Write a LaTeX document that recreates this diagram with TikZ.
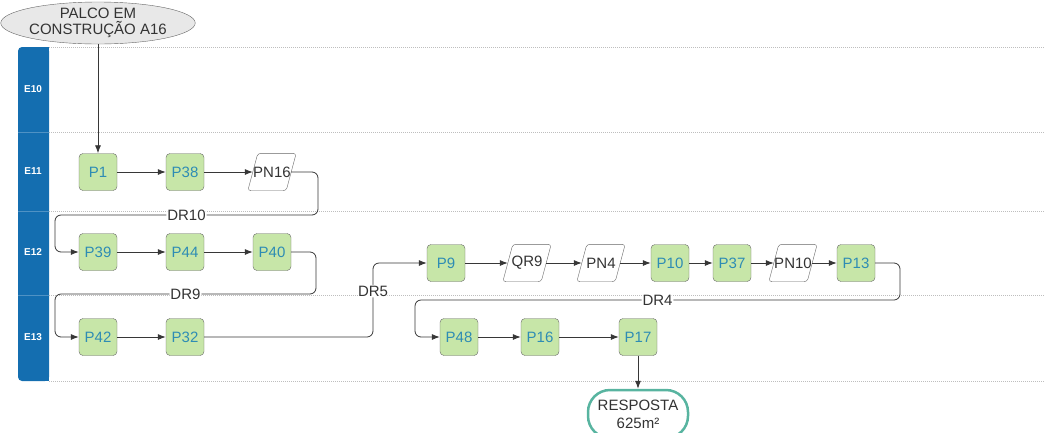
\documentclass[tikz,border=0pt]{standalone}
\usepackage{fontspec}
\setmainfont{Liberation Sans}
\usetikzlibrary{arrows.meta,calc,shapes.geometric}
\definecolor{lanecol}{RGB}{20,110,176}
\definecolor{stepfill}{RGB}{199,230,168}
\definecolor{steptext}{RGB}{46,140,180}
\definecolor{edgecol}{RGB}{55,55,55}
\definecolor{gridcol}{RGB}{190,190,190}
\definecolor{endcol}{RGB}{88,180,160}
\begin{document}
\begin{tikzpicture}[x=1pt,y=-1pt,
  font=\fontsize{15}{17}\selectfont,
  stepbox/.style={draw=black!60, fill=stepfill, rounded corners=4pt, minimum width=38pt,
    minimum height=37pt, inner sep=0pt, text=steptext},
  slantbox/.style={minimum width=38pt, minimum height=37pt, inner sep=0pt, text=black!80},
  slantedge/.style={draw=black!60, rounded corners=3pt},
  flow/.style={draw=edgecol, line width=0.8pt, -{Latex[length=8pt,width=6pt]}},
  route/.style={flow, rounded corners=6pt},
  tag/.style={fill=white, inner sep=1pt, text=black!80},
  divider/.style={gridcol, line width=0.7pt, dash pattern=on 1pt off 1pt},
  lanelabel/.style={text=white, font=\fontsize{10}{11}\selectfont\bfseries},
]
\useasboundingbox (0,0) rectangle (1044,432);

% lane dividers
\foreach \y in {47,132,211,295,381}
  \draw[divider] (49,\y) -- (1044,\y);

% lane header band
\fill[lanecol, rounded corners=4pt] (18,47) rectangle (49,381);
\fill[lanecol] (30,47) rectangle (49,381);
\foreach \y in {132,211,295}
  \draw[lanecol!75!white, line width=0.6pt] (18,\y) -- (49,\y);
\node[lanelabel] (e10) at (33,89) {E10};
\node[lanelabel] (e11) at (33,171) {E11};
\node[lanelabel] (e12) at (33,252) {E12};
\node[lanelabel] (e13) at (33,337) {E13};

% start
\node[ellipse, draw=black!60, fill=black!9, minimum width=176pt, minimum height=42pt,
  inner sep=0pt, align=center, text=black!80, font=\fontsize{15}{16}\selectfont]
  (start) at (98,23) {PALCO EM\\CONSTRUÇÃO A16};

% steps
\node[stepbox] (p1)  at (98,172)  {P1};
\node[stepbox] (p38) at (185,172) {P38};
\node[slantbox] (pn16) at (272,172) {PN16};
\node[stepbox] (p39) at (98,252)  {P39};
\node[stepbox] (p44) at (185,252) {P44};
\node[stepbox] (p40) at (272,252) {P40};
\node[stepbox] (p42) at (98,337)  {P42};
\node[stepbox] (p32) at (185,337) {P32};
\node[stepbox] (p9)  at (446,263) {P9};
\node[slantbox] (qr9) at (527,263) {QR9};
\node[slantbox] (pn4) at (601,263) {PN4};
\node[stepbox] (p10) at (670,263) {P10};
\node[stepbox] (p37) at (732,263) {P37};
\node[slantbox] (pn10) at (793,263) {PN10};
\node[stepbox] (p13) at (856,263) {P13};
\node[stepbox] (p48) at (459,337) {P48};
\node[stepbox] (p16) at (540,337) {P16};
\node[stepbox] (p17) at (638,337) {P17};

% parallelogram outlines
\foreach \n in {pn16,qr9,pn4,pn10}
  \draw[slantedge] ($(\n.south west)+(-5,0)$) -- ($(\n.north west)+(5,0)$)
    -- ($(\n.north east)+(5,0)$) -- ($(\n.south east)+(-5,0)$) -- cycle;

% end
\node[draw=endcol, line width=2.5pt, fill=white, rounded corners=22pt, minimum width=100pt,
  minimum height=48pt, inner sep=0pt, align=center, text=black!80,
  font=\fontsize{15}{18}\selectfont] (resp) at (638,414) {RESPOSTA\\625m²};

% connectors
\draw[flow] (start) -- (p1);
\draw[flow] (p1) -- (p38);
\draw[flow] (p38) -- (pn16);
\draw[route] (pn16.east) -- (318,172) -- (318,215) -- node[tag]{DR10} (55,215)
  -- (55,252) -- (p39.west);
\draw[flow] (p39) -- (p44);
\draw[flow] (p44) -- (p40);
\draw[route] (p40.east) -- (316,252) -- (316,294) -- node[tag]{DR9} (55,294)
  -- (55,337) -- (p42.west);
\draw[flow] (p42) -- (p32);
\draw[route] (p32.east) -- (373,337) -- node[tag, pos=0.62]{DR5} (373,263) -- (p9.west);
\draw[flow] (p9) -- (qr9);
\draw[flow] (qr9) -- (pn4);
\draw[flow] (pn4) -- (p10);
\draw[flow] (p10) -- (p37);
\draw[flow] (p37) -- (pn10);
\draw[flow] (pn10) -- (p13);
\draw[route] (p13.east) -- (900,263) -- (900,300) -- node[tag]{DR4} (415,300)
  -- (415,337) -- (p48.west);
\draw[flow] (p48) -- (p16);
\draw[flow] (p16) -- (p17);
\draw[flow] (p17) -- (resp);
\end{tikzpicture}
\end{document}
